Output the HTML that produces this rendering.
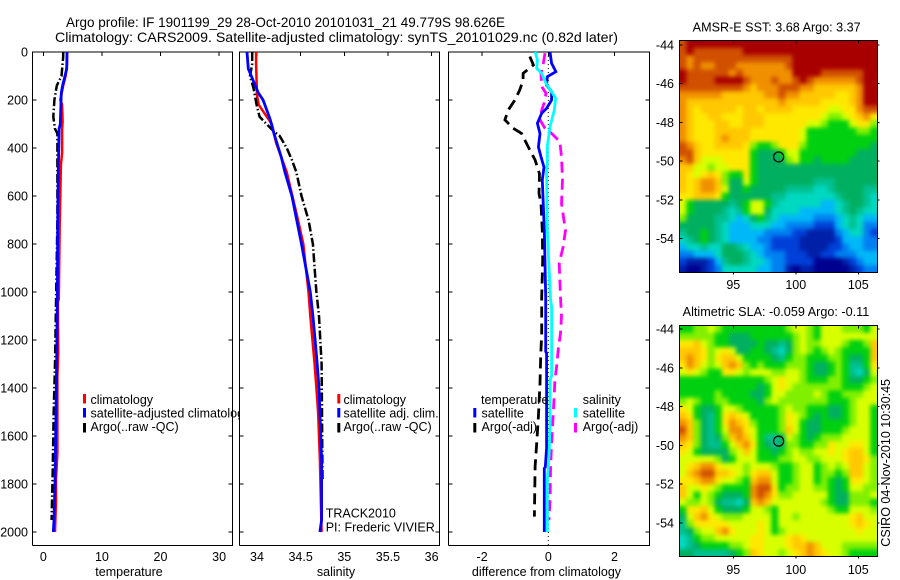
<!DOCTYPE html>
<html>
<head>
<meta charset="utf-8">
<title>Argo profile</title>
<style>
html,body{margin:0;padding:0;background:#fff;}
svg{display:block;}
text{font-family:"Liberation Sans",sans-serif;font-size:12.5px;fill:#000;}
</style>
</head>
<body>
<svg id="chart" xmlns="http://www.w3.org/2000/svg" width="900" height="580" viewBox="0 0 900 580">
  <defs>
    <filter id="mapSmooth" filterUnits="userSpaceOnUse" x="640" y="0" width="260" height="580" color-interpolation-filters="sRGB">
      <feGaussianBlur stdDeviation="2.2"/>
    </filter>
    <clipPath id="clipM1"><rect x="679.3" y="40.5" width="198" height="232"/></clipPath>
    <clipPath id="clipM2"><rect x="679.3" y="325.5" width="198" height="231"/></clipPath>
  </defs>
  <rect x="0" y="0" width="900" height="580" fill="#fff"/>
  <text x="66" y="27" textLength="439" lengthAdjust="spacingAndGlyphs" style="font-size:14px">Argo profile: IF 1901199_29 28-Oct-2010 20101031_21 49.779S 98.626E</text>
  <text x="55" y="42" textLength="563" lengthAdjust="spacingAndGlyphs" style="font-size:14px">Climatology: CARS2009. Satellite-adjusted climatology: synTS_20101029.nc (0.82d later)</text>

  <g id="p1"></g>
  <g id="p1legend">
    <rect x="83" y="394" width="3" height="9.5" fill="#f00"/>
    <rect x="83" y="408" width="3" height="9.5" fill="#00f"/>
    <rect x="83" y="423" width="3" height="9.5" fill="#000"/>
    <text x="90.5" y="404">climatology</text>
    <text x="90.5" y="417.5">satellite-adjusted climatology</text>
    <text x="90.5" y="431">Argo(..raw -QC)</text>
  </g>
  <rect x="239" y="50" width="210" height="500" fill="#fff"/>
  <g id="p2"></g>
  <g id="p2legend">
    <rect x="337.3" y="394" width="3" height="9.5" fill="#f00"/>
    <rect x="337.3" y="408" width="3" height="9.5" fill="#00f"/>
    <rect x="337.3" y="423" width="3" height="9.5" fill="#000"/>
    <text x="343.5" y="404">climatology</text>
    <text x="343.5" y="417.5">satellite adj. clim.</text>
    <text x="343.5" y="431">Argo(..raw -QC)</text>
    <text x="325.7" y="517.7">TRACK2010</text>
    <text x="325.7" y="531.7">PI: Frederic VIVIER</text>
  </g>
  <g id="p3"></g>
  <g id="p3legend">
    <text x="481" y="404">temperature</text>
    <rect x="473.3" y="408" width="3" height="9.5" fill="#00f"/>
    <rect x="473.3" y="423" width="3" height="9.5" fill="#000"/>
    <text x="481.5" y="417.5">satellite</text>
    <text x="481.5" y="431">Argo(-adj)</text>
    <text x="582.7" y="404">salinity</text>
    <rect x="574" y="408" width="3" height="9.5" fill="#0ff"/>
    <rect x="574" y="423" width="3" height="9.5" fill="#f0f"/>
    <text x="582.7" y="417.5">satellite</text>
    <text x="582.7" y="431">Argo(-adj)</text>
  </g>
  <g id="m1"></g>
  <g id="m2"></g>
  <text x="692.7" y="31.5" textLength="168" lengthAdjust="spacingAndGlyphs">AMSR-E SST: 3.68 Argo: 3.37</text>
  <text x="682.7" y="316" textLength="186.6" lengthAdjust="spacingAndGlyphs">Altimetric SLA: -0.059 Argo: -0.11</text>
  <text transform="translate(890,546.7) rotate(-90)" textLength="167.7" lengthAdjust="spacingAndGlyphs">CSIRO 04-Nov-2010 10:30:45</text>
</svg>
<script>
// ---- profile data (depth in dbar) ----
const depthTicks = [0,200,400,600,800,1000,1200,1400,1600,1800,2000];
const tempTicks = [0,10,20,30];
const salTicks = [34,34.5,35,35.5,36];
const salTickLabels = ['34','34.5','35','35.5','36'];
const diffTicks = [-2,0,2];

const tempClimDepth = [0,50,100,140,200,220,290,320,420,470,720,1030,1040,1250,1350,1670,1780,1870,2000];
const tempClim = [4.05,4.05,3.8,3.4,2.9,3.2,3.3,3.2,3.2,3.0,2.8,2.65,2.5,2.56,2.4,2.4,2.17,2.17,2.0];
const tempSatDepth = [0,70,100,140,170,300,320,500,720,1000,1250,1500,1800,1950,2000];
const tempSat = [4.05,4.0,3.7,3.3,3.08,2.9,2.7,2.56,2.45,2.4,2.3,2.17,2.0,1.82,1.7];
const tempArgoDepth = [0,20,100,140,200,270,320,340,500,700,1000,1300,1500,1750,1950];
const tempArgo = [3.4,3.4,3.1,2.3,1.9,1.7,2.0,2.4,2.4,2.4,2.2,2.0,1.77,1.6,1.42];

const salClimDepth = [0,50,180,220,300,380,500,700,800,1000,1100,1300,1400,1500,1700,2000];
const salClim = [33.99,33.99,34.0,34.02,34.17,34.22,34.34,34.47,34.53,34.59,34.61,34.66,34.68,34.70,34.72,34.74];
const salSatDepth = [0,70,100,170,200,280,340,440,500,600,700,800,900,1000,1100,1200,1300,1400,1500,1700,1950,2000];
const salSat = [33.885,33.9,33.935,34.015,34.07,34.15,34.195,34.28,34.32,34.4,34.455,34.51,34.56,34.61,34.64,34.665,34.69,34.71,34.72,34.74,34.74,34.72];
const salArgoDepth = [0,50,100,150,220,270,300,330,350,400,450,500,600,700,800,900,1000,1100,1300,1500,1780];
const salArgo = [33.945,33.945,33.92,33.96,33.995,34.03,34.11,34.19,34.26,34.34,34.4,34.45,34.51,34.59,34.64,34.66,34.68,34.71,34.74,34.745,34.75];

const diffTempSatDepth = [0,47,82,103,138,165,200,235,255,297,340,396,437,480,533,740,1020,1248,1255,1650,1730,1735,2000];
const diffTempSat = [0.05,0.10,0.23,-0.03,-0.05,0.10,0.10,-0.05,-0.20,-0.33,-0.25,-0.30,-0.22,-0.13,-0.18,-0.12,-0.08,-0.08,-0.05,-0.05,-0.09,-0.12,-0.12];
const diffSalSatDepth = [0,33,68,89,131,165,193,242,311,394,464,504,740,990,1033,1061,1350,1366,1550,1658,1730,1783,2000];
const diffSalSat = [-0.40,-0.33,-0.35,-0.20,-0.07,0.10,0.22,0.18,0.05,-0.03,-0.03,-0.05,-0.03,0.05,0.07,0.10,0.10,0.05,0.05,0.03,0,-0.03,-0.03];
const diffSalArgoDepth = [5,47,89,144,172,214,242,283,318,339,374,438,533,631,700,742,811,880,1020,1100,1172,1241,1311,1366,1422,1505,1630,1728,1866,1950];
const diffSalArgo = [-0.10,-0.15,-0.22,-0.20,-0.07,-0.13,-0.20,-0.25,-0.10,0.10,0.35,0.40,0.43,0.40,0.47,0.52,0.45,0.33,0.37,0.40,0.37,0.30,0.25,0.20,0.18,0.15,0.10,0.07,0.05,0.02];
const diffTempArgoDepth = [19,54,89,117,158,200,242,283,318,339,381,408,450,506,533,589,631,742,867,1020,1172,1269,1380,1519,1630,1728,1936];
const diffTempArgo = [-0.56,-0.45,-0.76,-0.76,-0.86,-1.01,-1.21,-1.31,-1.06,-0.81,-0.66,-0.56,-0.40,-0.27,-0.27,-0.28,-0.22,-0.18,-0.17,-0.2,-0.2,-0.23,-0.25,-0.30,-0.35,-0.40,-0.42];

// ---- map data: colour level per cell, north to south ----
const mapLonTicks = [95,100,105];
const mapLatTicks = [-44,-46,-48,-50,-52,-54];
const floatLon = [98.626];
const floatLat = [-49.779];
const levelColors = ['#00008f','#0020a8','#0040d8','#0080f0','#00b8f8','#00d8c0','#00c090','#00b060','#00d010','#80f000','#d8ff00','#ffe800','#ffc800','#f09000','#d05000','#a80000'];

const sstLevels = [
[14,15,15,15,15,15,15,15,15,15,15,15,15,15,15,15,15,15,15,15,15,15,15,15,15,15,15,15],
[14,15,14,14,14,14,14,14,14,15,15,15,15,15,15,15,15,15,15,15,15,15,15,15,15,15,15,15],
[14,13,14,14,14,14,14,14,14,14,14,14,14,14,14,14,15,15,15,15,15,15,15,15,15,15,15,15],
[14,13,14,13,13,14,14,14,13,13,13,13,13,13,13,14,15,15,15,15,15,15,15,15,15,15,15,15],
[15,14,14,14,14,14,14,13,14,13,13,13,13,13,13,13,15,15,15,15,14,14,14,14,14,14,15,15],
[15,14,14,14,14,15,15,15,15,14,13,13,13,14,13,13,14,15,14,13,13,13,13,13,13,14,15,15],
[14,14,14,14,14,14,14,14,14,13,12,13,13,13,14,14,14,13,13,12,12,12,12,12,12,13,15,15],
[13,13,13,13,13,13,12,12,12,12,12,12,13,13,14,13,13,12,12,12,12,12,11,11,12,13,15,15],
[13,12,12,12,12,12,12,12,12,12,12,12,12,12,13,12,12,12,12,12,11,11,11,11,12,13,15,15],
[13,12,11,12,12,12,12,12,11,12,12,11,12,12,12,12,11,11,11,11,11,10,10,11,11,13,14,14],
[13,12,11,11,12,12,11,11,11,12,12,12,11,11,11,11,11,11,11,11,10,9,9,10,11,12,13,11],
[13,12,11,11,11,12,12,11,11,12,12,12,11,11,11,11,11,11,10,10,9,8,8,8,10,11,11,9],
[13,12,11,11,11,12,12,12,12,12,11,11,11,11,11,11,11,10,8,8,8,8,8,8,8,9,9,8],
[13,12,11,11,11,12,13,12,12,12,11,11,11,11,11,11,11,10,8,8,8,8,8,8,8,8,8,8],
[14,13,12,11,11,12,12,12,12,11,9,8,8,9,11,11,11,9,8,8,8,8,8,8,8,8,8,7],
[14,14,12,11,11,11,11,11,11,11,8,7,7,7,8,10,10,8,8,8,8,8,8,8,8,7,7,7],
[13,14,12,10,10,10,11,11,11,11,8,7,7,7,7,9,10,8,8,7,8,8,8,8,7,7,7,7],
[12,12,10,10,9,10,10,11,11,11,8,7,7,7,7,7,7,7,7,7,7,7,7,7,7,7,7,7],
[12,11,10,11,12,11,9,8,8,11,8,7,7,7,7,7,7,7,7,7,7,7,7,7,7,7,7,7],
[12,11,12,13,13,12,9,7,7,10,8,7,7,7,7,7,7,7,7,6,6,6,7,7,7,7,7,7],
[12,11,12,13,13,12,10,7,7,8,7,7,7,7,7,6,6,6,6,5,5,6,7,7,7,7,6,6],
[11,11,12,12,12,11,8,7,7,7,7,7,7,6,6,5,5,5,5,5,5,5,6,7,7,7,6,5],
[10,8,7,7,7,7,7,6,7,8,10,10,8,6,5,5,5,5,5,5,4,4,5,6,7,7,6,5],
[10,8,7,7,7,7,6,5,6,8,10,10,7,5,5,5,5,4,4,4,4,4,5,6,7,6,5,5],
[9,7,7,7,7,6,6,5,4,5,7,8,6,5,4,4,4,4,4,3,3,3,4,5,6,5,4,4],
[7,7,7,7,7,6,5,4,4,4,5,5,5,4,4,3,3,3,3,2,2,2,4,5,6,5,3,3],
[6,7,7,8,7,6,5,4,4,4,4,4,3,3,3,3,2,2,1,1,1,1,3,4,5,5,3,2],
[5,6,7,8,7,6,5,4,4,4,4,3,3,2,2,2,2,1,1,1,1,1,2,4,4,4,3,3],
[4,5,5,6,5,5,7,7,6,5,4,4,3,2,2,2,2,1,1,1,1,2,2,3,4,4,3,3],
[3,3,4,4,4,5,7,7,7,6,5,4,3,3,3,2,2,2,1,1,2,2,3,3,3,4,4,4],
[2,1,1,1,2,4,6,7,7,6,5,5,4,3,3,2,2,2,2,0,0,0,0,1,2,3,4,4],
[1,0,0,1,2,3,5,5,5,5,5,4,4,3,3,1,0,1,1,0,0,0,0,0,1,2,3,3]
];

const slaLevels = [
[8,8,9,9,10,9,8,8,8,8,8,8,8,8,8,9,10,10,9,8,10,10,10,9,9,9,8,10],
[9,9,9,9,9,8,8,7,7,7,8,8,8,8,8,8,9,10,9,8,10,10,10,10,10,10,10,10],
[11,11,12,10,9,8,8,7,7,7,7,8,7,7,6,7,9,10,9,9,10,10,10,9,8,8,9,12],
[12,12,12,11,9,10,11,10,7,7,8,8,7,6,5,7,9,10,9,8,9,10,9,8,8,8,8,12],
[12,13,12,11,9,11,12,12,10,8,8,8,8,7,6,8,9,9,8,8,8,9,9,8,7,7,8,12],
[11,13,12,10,9,10,12,13,12,9,8,9,8,8,8,9,9,9,8,7,7,8,9,8,6,6,8,11],
[10,11,10,9,8,8,11,11,10,9,10,10,10,9,9,10,10,9,8,7,7,8,9,8,6,5,7,10],
[8,8,8,8,8,8,8,8,8,8,8,8,9,10,11,10,10,9,8,8,8,9,9,8,7,7,8,9],
[8,8,8,8,8,8,8,8,8,8,8,7,8,10,11,10,9,9,9,9,9,9,9,8,8,8,9,10],
[8,8,8,8,8,9,8,8,8,8,7,7,8,10,10,9,9,9,9,10,9,8,8,9,9,9,10,10],
[9,10,9,8,8,9,9,8,8,8,8,7,9,10,9,9,9,9,9,9,9,8,8,8,9,10,10,10],
[11,10,8,7,7,8,10,10,9,8,8,8,8,8,9,10,9,9,8,8,8,7,7,8,9,10,10,8],
[12,11,8,7,6,8,11,12,11,10,8,8,8,8,9,11,10,9,8,7,8,7,7,8,9,10,10,8],
[13,12,9,7,6,8,11,13,12,11,9,8,8,8,9,11,10,8,7,7,8,8,8,8,9,10,10,8],
[14,12,9,7,6,8,10,13,13,11,10,8,8,8,9,12,10,8,7,7,8,8,8,9,10,10,10,8],
[13,12,9,7,6,7,9,12,13,12,10,8,6,6,7,10,9,8,7,8,9,9,9,10,10,10,10,8],
[12,11,9,7,6,6,8,10,12,13,11,8,7,6,7,9,9,8,8,9,9,11,10,10,11,11,10,8],
[11,10,8,7,7,7,7,9,10,12,10,8,8,7,8,9,10,9,9,10,10,11,10,11,12,12,10,8],
[10,10,10,10,10,9,7,8,10,10,10,8,8,8,9,9,10,10,9,9,10,10,10,11,12,12,11,9],
[10,11,12,13,13,11,10,10,10,9,10,10,10,9,8,8,9,10,10,8,9,10,9,10,12,12,10,9],
[10,12,13,14,14,12,12,11,10,9,11,12,12,10,8,8,9,10,10,8,9,9,8,9,12,12,10,9],
[11,11,12,13,13,11,10,10,9,8,12,13,13,10,8,8,9,10,10,8,9,8,7,8,11,11,10,9],
[12,10,10,11,10,9,8,8,8,8,13,14,14,11,8,9,9,10,10,9,9,8,7,8,10,10,9,9],
[12,10,8,10,9,8,7,7,7,8,13,14,13,11,9,9,10,10,10,10,10,8,7,7,9,9,9,10],
[10,9,9,10,9,7,6,6,5,7,12,13,12,10,10,10,10,10,10,10,9,8,7,7,9,9,9,8],
[8,11,11,12,10,8,7,7,7,8,10,10,9,8,10,10,10,10,10,10,10,9,8,8,10,10,10,9],
[7,10,12,13,11,10,9,9,9,10,10,10,10,8,10,10,9,10,10,10,10,10,10,10,11,12,10,10],
[6,9,11,11,11,11,11,10,10,10,10,11,10,8,10,10,10,10,10,10,10,10,10,10,11,12,11,10],
[6,7,9,10,10,12,13,11,10,10,10,11,10,8,9,10,10,10,10,10,10,10,10,10,10,11,10,10],
[5,6,8,9,9,10,10,10,10,10,11,11,10,10,10,11,12,11,10,10,10,10,10,10,10,10,10,10],
[5,6,7,8,8,8,8,9,9,10,11,11,10,10,10,11,12,12,13,12,10,10,10,9,9,9,9,9],
[7,7,6,6,6,6,6,7,8,9,12,11,10,10,9,10,11,12,13,12,11,10,10,9,8,8,8,8]
];

// ---- helpers ----
const NS = 'http://www.w3.org/2000/svg';
function mk(parent, tag, attrs, txt) {
  const el = document.createElementNS(NS, tag);
  for (const k in attrs) el.setAttribute(k, attrs[k]);
  if (txt !== undefined) el.textContent = txt;
  parent.appendChild(el);
  return el;
}
function yDepth(d) { return 52 + d * 0.24; }
function xTemp(v) { return 43.3 + v * 5.86; }
function xSal(v) { return 257 + (v - 34) * 87.3; }
function xDiff(v) { return 548.3 + v * 33.1; }
function xLon(v) { return 733.3 + (v - 95) * 12.5; }
function y1Lat(v) { return 45 + (-44 - v) * 19.37; }
function y2Lat(v) { return 329 + (-44 - v) * 19.4; }

function drawProfile(parent, vals, depths, xf, color, width, dash, name) {
  const pts = vals.map((v, i) => xf(v).toFixed(1) + ',' + yDepth(depths[i]).toFixed(1)).join(' ');
  const line = mk(parent, 'polyline', {points: pts, fill: 'none', stroke: color, 'stroke-width': width, 'stroke-linejoin': 'miter'});
  if (dash) line.setAttribute('stroke-dasharray', dash);
  
  
}

function drawProfileAxes(parent, L, R, xTicks, xLabels, xf, showDepthLabels, title, titleX) {
  const T = 52, B = 545.5;
  const frame = mk(parent, 'path', {d: `M${L} ${B}V${T}H${R}V${B}H${L}`, fill: 'none', stroke: '#000', 'stroke-width': 1, 'shape-rendering': 'crispEdges'});
  
  
  depthTicks.forEach((d) => {
    const y = yDepth(d);
    const tick = mk(parent, 'path', {d: `M${L} ${y}h4M${R} ${y}h-4`, stroke: '#000', 'stroke-width': 1, 'shape-rendering': 'crispEdges'});
    
    
    if (showDepthLabels) {
      const lab = mk(parent, 'text', {x: 28, y: y + 4.5, 'text-anchor': 'end'}, String(d));
      
      
    }
  });
  xTicks.forEach((v, i) => {
    const x = xf(v);
    const tick = mk(parent, 'path', {d: `M${x} ${T}v4`, stroke: '#000', 'stroke-width': 1, 'shape-rendering': 'crispEdges'});
    
    
    const lab = mk(parent, 'text', {x: x, y: 561, 'text-anchor': 'middle'}, xLabels[i]);
    
    
  });
  const t = mk(parent, 'text', {x: titleX, y: 576, 'text-anchor': 'middle'}, title);
  
  
}

function drawMap(parent, levels, yf, top, bottom, labelY, clipId) {
  const L = 679.3, R = 877.3;
  const nr = levels.length;
  const nc = levels[0].length;
  const cw = (R - L) / nc, ch = (bottom - top) / nr;
  const clip = mk(parent, 'g', {'clip-path': 'url(#' + clipId + ')'});
  
  
  const smooth = mk(clip, 'g', {filter: 'url(#mapSmooth)'});
  
  
  const pad = 14; // outer cells run past the frame so smoothing keeps full colour at the edge
  levels.forEach((row, r) => {
    row.forEach((lev, c) => {
      const x0 = L + c * cw - (c === 0 ? pad : 0);
      const x1 = L + (c + 1) * cw + (c === nc - 1 ? pad : 0.5);
      const y0 = top + r * ch - (r === 0 ? pad : 0);
      const y1 = top + (r + 1) * ch + (r === nr - 1 ? pad : 0.5);
      const cell = mk(smooth, 'rect', {x: x0.toFixed(2), y: y0.toFixed(2), width: (x1 - x0).toFixed(2), height: (y1 - y0).toFixed(2), fill: levelColors[lev]});
      
      
    });
  });
  const frame = mk(parent, 'rect', {x: L, y: top, width: R - L, height: bottom - top, fill: 'none', stroke: '#000', 'stroke-width': 1, 'shape-rendering': 'crispEdges'});
  
  
  mapLatTicks.forEach((v) => {
    const y = yf(v);
    const tick = mk(parent, 'path', {d: `M${L} ${y}h3M${R} ${y}h2`, stroke: '#000', 'stroke-width': 1, 'shape-rendering': 'crispEdges'});
    
    
    const lab = mk(parent, 'text', {x: 674, y: y + 4.5, 'text-anchor': 'end'}, String(v));
    
    
  });
  mapLonTicks.forEach((v) => {
    const x = xLon(v);
    const tick = mk(parent, 'path', {d: `M${x} ${top}v3M${x} ${bottom}v2`, stroke: '#000', 'stroke-width': 1, 'shape-rendering': 'crispEdges'});
    
    
    const lab = mk(parent, 'text', {x: x, y: labelY, 'text-anchor': 'middle'}, String(v));
    
    
  });
  const marker = mk(parent, 'circle', {cx: xLon(floatLon[0]), cy: yf(floatLat[0]), r: 5, fill: 'none', stroke: '#000', 'stroke-width': 1.2});
  
  
}

// ---- build ----
const p1 = document.getElementById('p1');
const p2 = document.getElementById('p2');
const p3 = document.getElementById('p3');
const DASHDOT = '9 2.5 1.5 2.5';
const DASHED = '11 6';

drawProfileAxes(p1, 32.5, 232.5, tempTicks, tempTicks.map(String), xTemp, true, 'temperature', 129);
drawProfile(p1, tempClim, tempClimDepth, xTemp, '#f00', 2.5, null, 'temperature-climatology-line');
drawProfile(p1, tempArgo, tempArgoDepth, xTemp, '#000', 2.5, DASHDOT, 'temperature-argo-line');
drawProfile(p1, tempSat, tempSatDepth, xTemp, '#00f', 2.8, null, 'temperature-satellite-line');

drawProfileAxes(p2, 239.5, 439.5, salTicks, salTickLabels, xSal, false, 'salinity', 336);
drawProfile(p2, salClim, salClimDepth, xSal, '#f00', 2.5, null, 'salinity-climatology-line');
drawProfile(p2, salArgo, salArgoDepth, xSal, '#000', 2.5, DASHDOT, 'salinity-argo-line');
drawProfile(p2, salSat, salSatDepth, xSal, '#00f', 2.8, null, 'salinity-satellite-line');

drawProfileAxes(p3, 448.5, 649.5, diffTicks, diffTicks.map(String), xDiff, false, 'difference from climatology', 546.5);
const zeroLine = mk(p3, 'line', {x1: xDiff(0), x2: xDiff(0), y1: 52, y2: 545, stroke: '#000', 'stroke-width': 1, 'stroke-dasharray': '1 3'});


drawProfile(p3, diffTempArgo, diffTempArgoDepth, xDiff, '#000', 2.8, DASHED, 'difference-temperature-argo-line');
drawProfile(p3, diffSalArgo, diffSalArgoDepth, xDiff, '#f0f', 2.8, DASHED, 'difference-salinity-argo-line');
drawProfile(p3, diffTempSat, diffTempSatDepth, xDiff, '#00f', 2.8, null, 'difference-temperature-satellite-line');
drawProfile(p3, diffSalSat, diffSalSatDepth, xDiff, '#0ff', 2.8, null, 'difference-salinity-satellite-line');

drawMap(document.getElementById('m1'), sstLevels, y1Lat, 40.5, 272.5, 289, 'clipM1');
drawMap(document.getElementById('m2'), slaLevels, y2Lat, 325.5, 556.5, 574, 'clipM2');
</script>
</body>
</html>
